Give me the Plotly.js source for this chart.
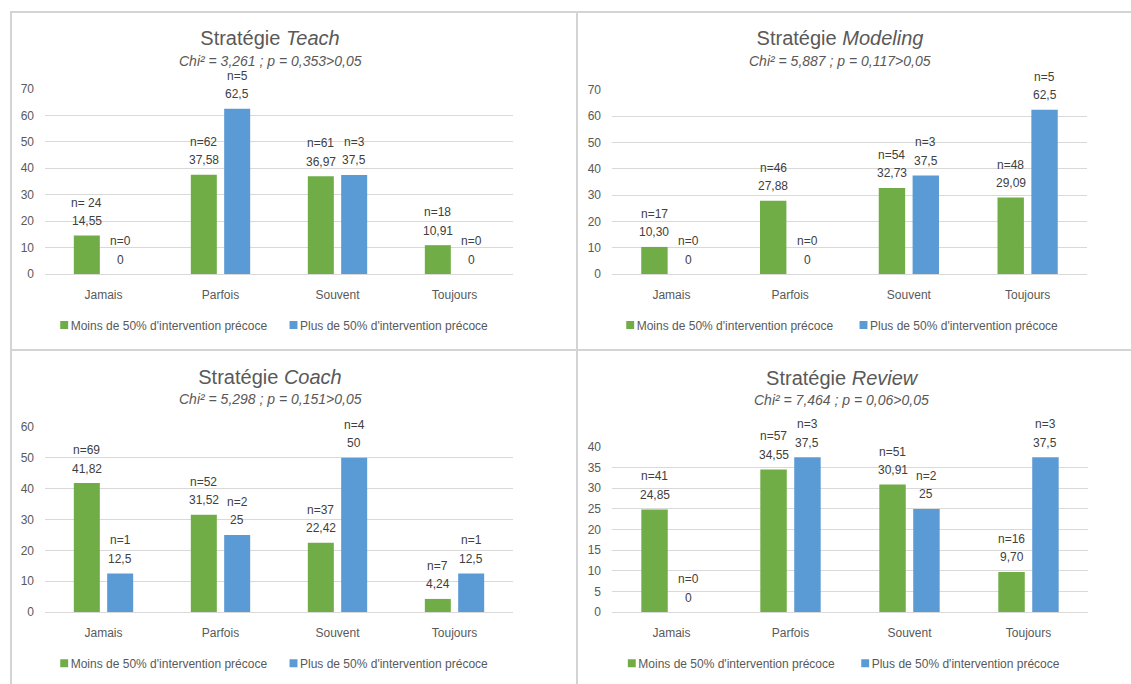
<!DOCTYPE html>
<html>
<head>
<meta charset="utf-8">
<script src="https://cdn.plot.ly/plotly-3.0.1.min.js"></script>
<style>
  html, body { margin: 0; padding: 0; background: #ffffff; }
  body { width: 1131px; height: 684px; overflow: hidden; position: relative; font-family: "Liberation Sans", Arial, sans-serif; }
  .panel { position: absolute; }
  .ln { position: absolute; background: #d4d4d4; }
</style>
</head>
<body>
<div class="ln" style="left:10px;top:11px;width:1121px;height:2px"></div>
<div class="ln" style="left:10px;top:11px;width:2px;height:673px"></div>
<div class="ln" style="left:576px;top:11px;width:2px;height:673px"></div>
<div class="ln" style="left:10px;top:349px;width:1121px;height:2px"></div>
<div id="teach" class="panel"></div>
<div id="modeling" class="panel"></div>
<div id="coach" class="panel"></div>
<div id="review" class="panel"></div>
<script>
// ---------- Data ----------
const categories = ['Jamais', 'Parfois', 'Souvent', 'Toujours'];
const seriesLowName = "Moins de 50% d'intervention précoce";
const seriesHighName = "Plus de 50% d'intervention précoce";

const teachLow = [14.55, 37.58, 36.97, 10.91];
const teachHigh = [0, 62.5, 37.5, 0];
const teachLowN = ['n= 24', 'n=62', 'n=61', 'n=18'];
const teachHighN = ['n=0', 'n=5', 'n=3', 'n=0'];

const modelingLow = [10.30, 27.88, 32.73, 29.09];
const modelingHigh = [0, 0, 37.5, 62.5];
const modelingLowN = ['n=17', 'n=46', 'n=54', 'n=48'];
const modelingHighN = ['n=0', 'n=0', 'n=3', 'n=5'];

const coachLow = [41.82, 31.52, 22.42, 4.24];
const coachHigh = [12.5, 25, 50, 12.5];
const coachLowN = ['n=69', 'n=52', 'n=37', 'n=7'];
const coachHighN = ['n=1', 'n=2', 'n=4', 'n=1'];

const reviewLow = [24.85, 34.55, 30.91, 9.70];
const reviewHigh = [0, 37.5, 25, 37.5];
const reviewLowN = ['n=41', 'n=57', 'n=51', 'n=16'];
const reviewHighN = ['n=0', 'n=3', 'n=2', 'n=3'];

const teachTitle = 'Teach', teachSub = 'Chi² = 3,261 ; p = 0,353>0,05';
const modelingTitle = 'Modeling', modelingSub = 'Chi² = 5,887 ; p = 0,117>0,05';
const coachTitle = 'Coach', coachSub = 'Chi² = 5,298 ; p = 0,151>0,05';
const reviewTitle = 'Review', reviewSub = 'Chi² = 7,464 ; p = 0,06>0,05';

// ---------- Styling ----------
const FONT = '"Liberation Sans", Arial, Helvetica, sans-serif';
const GREEN = '#70AD47';
const BLUE = '#5B9BD5';
const TXT = '#595959';
const LBL = '#404040';
const GRID = '#d9d9d9';
const BARGAP = 0.43;

// panel geometry in page pixels (leg1X / leg2X = where each legend text starts)
const geoTeach = {left:12, top:13, w:564, h:336, plotL:45, plotR:513, plotT:88.7, plotB:274, titleX:270, titleY:38, subY:61, leg1X:70.7, leg2X:300, legY:325};
const geoModeling = {left:578, top:13, w:553, h:336, plotL:611.7, plotR:1086.7, plotT:90, plotB:274, titleX:840, titleY:38, subY:61, leg1X:636.7, leg2X:870, legY:325};
const geoCoach = {left:12, top:351, w:564, h:333, plotL:45, plotR:513, plotT:427.3, plotB:612.3, titleX:270, titleY:376.7, subY:399, leg1X:70.7, leg2X:300, legY:663.3};
const geoReview = {left:578, top:351, w:553, h:333, plotL:611.7, plotR:1088, plotT:447.3, plotB:612.3, titleX:841.7, titleY:377.7, subY:400, leg1X:638.3, leg2X:871.7, legY:663.3};

function fmtLow(v) { return v.toFixed(2).replace('.', ','); }
function fmtHigh(v) { return String(v).replace('.', ','); }

// smaller legend squares placed right next to their text (Excel style)
function fixLegend(el) {
  el.querySelectorAll('.legendpoints path').forEach(p => p.setAttribute('transform', 'translate(33.5,0) scale(0.66)'));
}

function drawPanel(id, g, name, sub, low, high, lowN, highN, ymax, dtick) {
  const el = document.getElementById(id);
  el.style.left = g.left + 'px';
  el.style.top = g.top + 'px';
  el.style.width = g.w + 'px';
  el.style.height = g.h + 'px';

  const pw = g.plotR - g.plotL, ph = g.plotB - g.plotT;
  const px = x => (x - g.plotL) / pw;
  const py = y => (g.plotB - y) / ph;
  const off = (1 - BARGAP) / 4;

  const traces = [
    {type:'bar', name: seriesLowName, x: categories, y: low, marker:{color: GREEN}, hoverinfo:'skip', showlegend:true, legend:'legend'},
    {type:'bar', name: seriesHighName, x: categories, y: high, marker:{color: BLUE}, hoverinfo:'skip', showlegend:true, legend:'legend2'}
  ];

  const lblFont = {family: FONT, size: 12, color: LBL};
  const ann = [];
  [[low, lowN, fmtLow, -off], [high, highN, fmtHigh, off]].forEach(([vals, ns, fmt, o]) => {
    vals.forEach((v, i) => {
      ann.push({x: i + o, y: v, xref:'x', yref:'y', text: fmt(v), showarrow:false,
                xanchor:'center', yanchor:'middle', yshift: 14.5, font: lblFont});
      ann.push({x: i + o, y: v, xref:'x', yref:'y', text: ns[i], showarrow:false,
                xanchor:'center', yanchor:'middle', yshift: 33, font: lblFont});
    });
  });
  ann.push({x: px(g.titleX), y: py(g.subY), xref:'paper', yref:'paper', text: sub, showarrow:false,
            xanchor:'center', yanchor:'middle', font:{family: FONT, size: 14, color: TXT, style:'italic'}});

  const legBase = {orientation:'h', xref:'container', yref:'container', xanchor:'left', yanchor:'middle',
                   y: 1 - (g.legY - g.top) / g.h, font:{family: FONT, size: 12, color: TXT},
                   bgcolor:'rgba(0,0,0,0)', borderwidth:0, itemclick:false};

  const layout = {
    width: g.w, height: g.h,
    margin: {l: g.plotL - g.left, r: g.left + g.w - g.plotR, t: g.plotT - g.top, b: g.top + g.h - g.plotB, pad: 0},
    paper_bgcolor: '#ffffff', plot_bgcolor: '#ffffff',
    font: {family: FONT, size: 12, color: TXT},
    title: {text: 'Stratégie <i>' + name + '</i>', font: {family: FONT, size: 20, color: TXT},
            x: (g.titleX - g.left) / g.w, xref:'container', xanchor:'center',
            y: 1 - (g.titleY - g.top) / g.h, yref:'container', yanchor:'middle'},
    barmode: 'group', bargap: BARGAP, bargroupgap: 0.22,
    showlegend: true,
    legend: Object.assign({}, legBase, {x: (g.leg1X - 40 - g.left) / g.w}),
    legend2: Object.assign({}, legBase, {x: (g.leg2X - 40 - g.left) / g.w}),
    xaxis: {type:'category', showgrid:false, zeroline:false, showline:false, ticks:'', automargin:false,
            tickfont:{family: FONT, size: 12, color: TXT}, ticklabelstandoff: 12, fixedrange:true},
    yaxis: {range:[0, ymax], tick0:0, dtick: dtick, showgrid:true, gridcolor: GRID, gridwidth:1, automargin:false,
            zeroline:true, zerolinecolor: GRID, zerolinewidth:1, showline:false, ticks:'',
            tickfont:{family: FONT, size: 12, color: TXT}, ticklabelstandoff: 10, fixedrange:true},
    annotations: ann
  };

  return Plotly.newPlot(el, traces, layout, {staticPlot:true, displayModeBar:false}).then(() => {
    fixLegend(el);
    el.on('plotly_afterplot', () => fixLegend(el));
    setTimeout(() => fixLegend(el), 50);
  });
}

drawPanel('teach', geoTeach, teachTitle, teachSub, teachLow, teachHigh, teachLowN, teachHighN, 70, 10);
drawPanel('modeling', geoModeling, modelingTitle, modelingSub, modelingLow, modelingHigh, modelingLowN, modelingHighN, 70, 10);
drawPanel('coach', geoCoach, coachTitle, coachSub, coachLow, coachHigh, coachLowN, coachHighN, 60, 10);
drawPanel('review', geoReview, reviewTitle, reviewSub, reviewLow, reviewHigh, reviewLowN, reviewHighN, 40, 5);
</script>
</body>
</html>
